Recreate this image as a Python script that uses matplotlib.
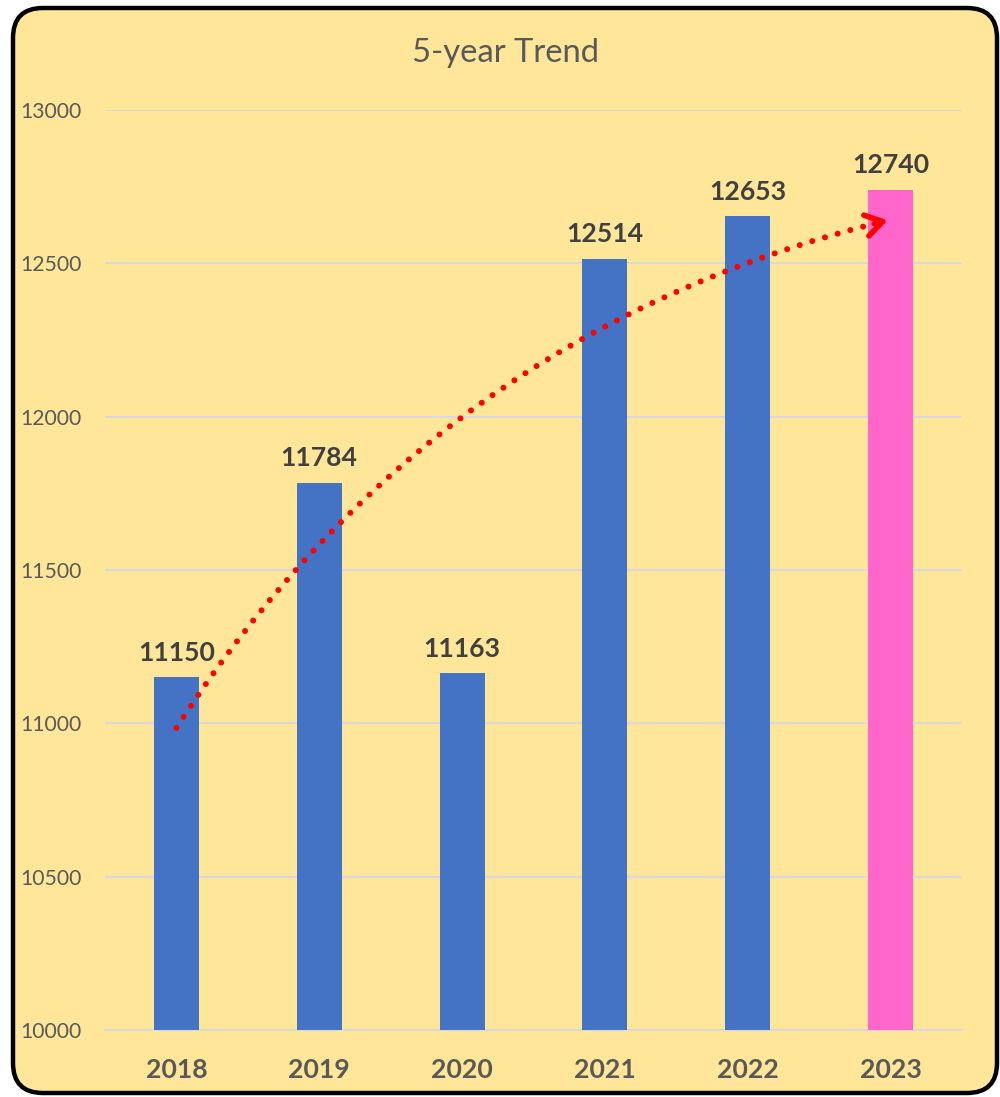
import matplotlib
matplotlib.use("agg")
import matplotlib.pyplot as plt
from matplotlib.patches import FancyBboxPatch, FancyArrowPatch
import numpy as np

years = ["2018", "2019", "2020", "2021", "2022", "2023"]
values = [11150, 11784, 11163, 12514, 12653, 12740]
bar_colors = ["#4472C4", "#4472C4", "#4472C4", "#4472C4", "#4472C4", "#FF66CC"]
yticks = [10000, 10500, 11000, 11500, 12000, 12500, 13000]
# trend arrow, start and end in data units
trend_start = (0.0, 10985)
trend_end = (4.98, 12640)

plt.rcParams["font.family"] = ["Lato", "DejaVu Sans"]

fig = plt.figure(figsize=(10, 10.97), dpi=100, facecolor="white")

# rounded card behind everything
card = FancyBboxPatch((0.13, 0.04), 9.84, 10.85,
                      boxstyle="round,pad=0,rounding_size=0.3",
                      transform=fig.dpi_scale_trans,
                      facecolor="#FFE699", edgecolor="black", linewidth=3.2,
                      zorder=-5)
fig.patches.append(card)

ax = fig.add_axes([0.105, 0.0611, 0.857, 0.8387])
ax.set_facecolor("none")

x = np.arange(len(years))
ax.bar(x, values, width=0.315, color=bar_colors, zorder=3)

for xi, v in zip(x, values):
    ax.annotate(str(v), (xi, v), xytext=(0, 9), textcoords="offset points",
                ha="center", va="bottom", fontsize=19.2, fontweight="bold",
                color="#404040", zorder=5)

ax.set_xlim(-0.5, 5.5)
ax.set_ylim(10000, 13000)
ax.set_yticks(yticks)
ax.set_yticklabels([str(t) for t in yticks])
ax.set_xticks(x)
ax.set_xticklabels(years)
ax.tick_params(axis="y", length=0, pad=17, labelsize=15.2, labelcolor="#595959")
ax.tick_params(axis="x", length=0, pad=20, labelsize=19.2, labelcolor="#595959")
for lbl in ax.get_xticklabels():
    lbl.set_fontweight("bold")
ax.yaxis.grid(True, color="#D9D9D9", linewidth=1.5, zorder=0)
ax.set_axisbelow(True)
for s in ["top", "right", "left"]:
    ax.spines[s].set_visible(False)
ax.spines["bottom"].set_color("#D9D9D9")
ax.spines["bottom"].set_linewidth(1.5)

fig.text(0.506, 0.952, "5-year Trend", ha="center", va="center",
         fontsize=23.6, color="#595959")

# dotted curved trend line
rad = -0.2
curve = FancyArrowPatch(trend_start, trend_end, connectionstyle="arc3,rad=%s" % rad,
                        arrowstyle="-", color="red", linewidth=4.3,
                        linestyle=(0, (0.01, 2.2)), shrinkA=0, shrinkB=0, zorder=6)
curve.set_capstyle("round")
ax.add_patch(curve)

# arrow head along the tangent at the end of the curve
p1 = ax.transData.transform(trend_start)
p2 = ax.transData.transform(trend_end)
mid = (p1 + p2) / 2
d = p2 - p1
ctrl = np.array([mid[0] + rad * d[1], mid[1] - rad * d[0]])
tang = p2 - ctrl
tang = tang / np.hypot(*tang)
back = ax.transData.inverted().transform(p2 - tang * 14)
head = FancyArrowPatch(tuple(back), trend_end,
                       arrowstyle="->,head_length=0.55,head_width=0.35",
                       mutation_scale=22, color="red", linewidth=4,
                       shrinkA=0, shrinkB=0, zorder=7)
head.set_capstyle("round")
head.set_joinstyle("round")
ax.add_patch(head)

fig.savefig("out.png", dpi=100, facecolor="white")
